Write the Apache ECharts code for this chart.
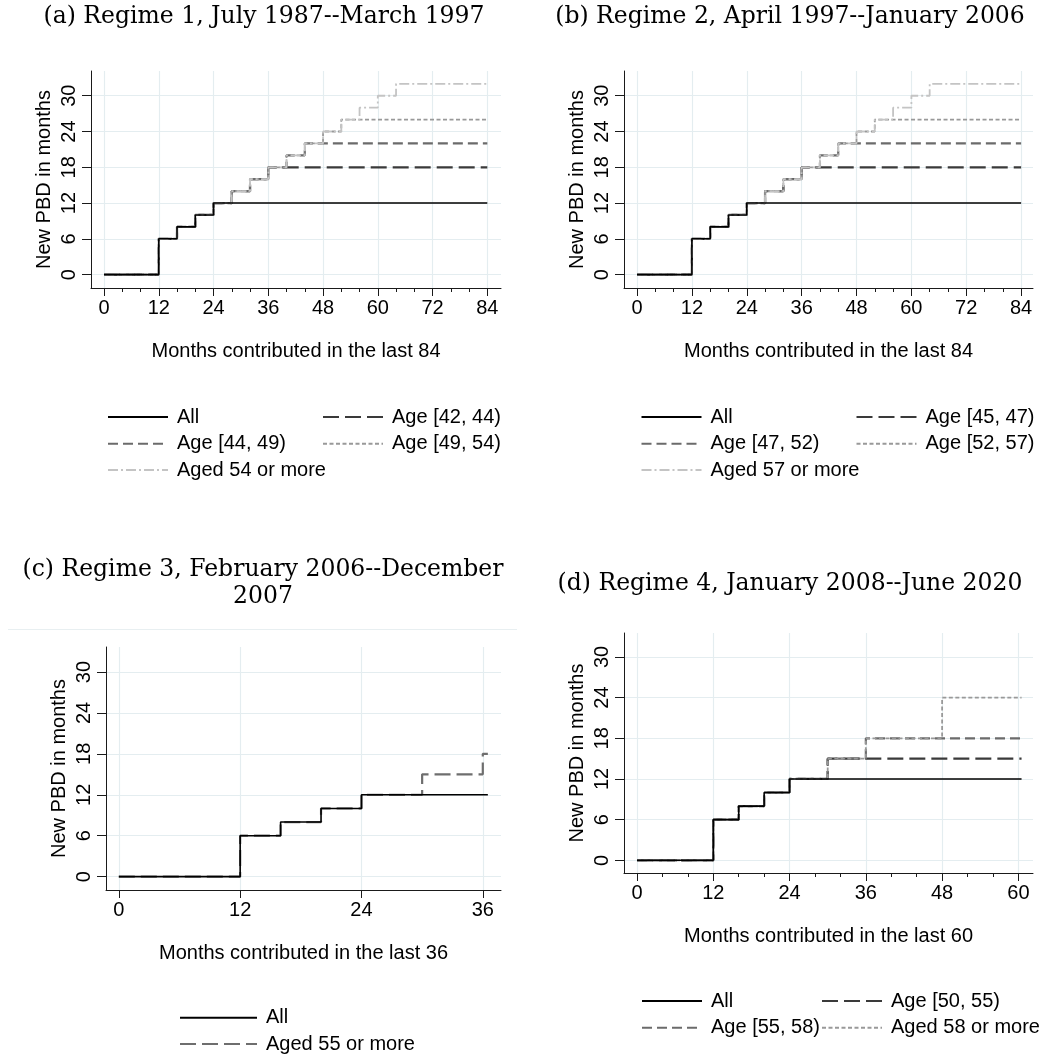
<!DOCTYPE html>
<html><head><meta charset="utf-8">
<script src="https://cdn.jsdelivr.net/npm/echarts@6/dist/echarts.min.js"></script>
<style>html,body{margin:0;padding:0;background:#fff}#c{width:1048px;height:1055px}</style>
</head><body><div id="c"></div><script>
// ---------------- DATA ----------------
const titleA = '(a) Regime 1, July 1987--March 1997';
const titleB = '(b) Regime 2, April 1997--January 2006';
const titleC = '(c) Regime 3, February 2006--December\n2007';
const titleD = '(d) Regime 4, January 2008--June 2020';
const yTitle = 'New PBD in months';

const yTicks = [0, 6, 12, 18, 24, 30];
const xTicks84 = [0, 12, 24, 36, 48, 60, 72, 84];
const xMinor84 = [0, 4, 8, 12, 16, 20, 24, 28, 32, 36, 40, 44, 48, 52, 56, 60, 64, 68, 72, 76, 80, 84];
const xTicks36 = [0, 12, 24, 36];
const xTicks60 = [0, 12, 24, 36, 48, 60];
const xMinor60 = [0, 4, 8, 12, 16, 20, 24, 28, 32, 36, 40, 44, 48, 52, 56, 60];

// Regime 1 and 2 (same schedule); step breakpoints (months contributed)
const months84 = [0, 12, 16, 20, 24, 28, 32, 36, 40, 44, 48, 52, 56, 60, 64, 84];
const allR12   = [0, 6, 8, 10, 12, 12, 12, 12, 12, 12, 12, 12, 12, 12, 12, 12];
const grp1R12  = [0, 6, 8, 10, 12, 14, 16, 18, 18, 18, 18, 18, 18, 18, 18, 18];
const grp2R12  = [0, 6, 8, 10, 12, 14, 16, 18, 20, 22, 22, 22, 22, 22, 22, 22];
const grp3R12  = [0, 6, 8, 10, 12, 14, 16, 18, 20, 22, 24, 26, 26, 26, 26, 26];
const grp4R12  = [0, 6, 8, 10, 12, 14, 16, 18, 20, 22, 24, 26, 28, 30, 32, 32];
const namesA = ['All', 'Age [42, 44)', 'Age [44, 49)', 'Age [49, 54)', 'Aged 54 or more'];
const namesB = ['All', 'Age [45, 47)', 'Age [47, 52)', 'Age [52, 57)', 'Aged 57 or more'];

// Regime 3
const months36 = [0, 12, 16, 20, 24, 30, 36, 36.5];
const allR3    = [0, 6, 8, 10, 12, 12, 12, 12];
const grp1R3   = [0, 6, 8, 10, 12, 15, 18, 18];
const namesC = ['All', 'Aged 55 or more'];

// Regime 4
const months60 = [0, 12, 16, 20, 24, 30, 36, 48, 60.5];
const allR4    = [0, 6, 8, 10, 12, 12, 12, 12, 12];
const grp1R4   = [0, 6, 8, 10, 12, 15, 15, 15, 15];
const grp2R4   = [0, 6, 8, 10, 12, 15, 18, 18, 18];
const grp3R4   = [0, 6, 8, 10, 12, 15, 18, 24, 24];
const namesD = ['All', 'Age [50, 55)', 'Age [55, 58)', 'Aged 58 or more'];

// ---------------- STYLES ----------------
const SANS = 'Liberation Sans, Arial, sans-serif';
const SERIF = 'DejaVu Serif, serif';
const sAll  = {color: '#000000', width: 1.6, type: 'solid'};
const sG1   = {color: '#3a3a3a', width: 2.2, type: [16, 6]};
const sG2   = {color: '#6b6b6b', width: 2.2, type: [10, 5]};
const sG3   = {color: '#999999', width: 1.8, type: [4, 2.5]};
const sG4   = {color: '#c4c4c4', width: 1.8, type: [10, 3, 2, 3]};
const sC1   = {color: '#6e6e6e', width: 2.2, type: [16, 6]};
const gridColor = '#e4edf0';

function pairs(xs, ys) { return xs.map((x, i) => [x, ys[i]]); }

const panels = [
  { title: titleA, tx: 264, tt: 3,
    grid: {left: 91, top: 71, width: 410, height: 217},
    xr: [-2.85, 87.0], yr: [-2.25, 34.15], xt: xTicks84, xm: xMinor84,
    xName: 'Months contributed in the last 84',
    series: [[namesA[1], pairs(months84, grp1R12), sG1], [namesA[2], pairs(months84, grp2R12), sG2],
             [namesA[3], pairs(months84, grp3R12), sG3], [namesA[4], pairs(months84, grp4R12), sG4],
             [namesA[0], pairs(months84, allR12), sAll]],
    legend: [[namesA[0], 107, 416, 60], [namesA[1], 322, 416, 60], [namesA[2], 107, 442.7, 60],
             [namesA[3], 322, 442.7, 60], [namesA[4], 107, 469, 60]] },
  { title: titleB, tx: 790, tt: 3,
    grid: {left: 624, top: 71, width: 409, height: 217},
    xr: [-2.85, 86.6], yr: [-2.25, 34.15], xt: xTicks84, xm: xMinor84,
    xName: 'Months contributed in the last 84',
    series: [[namesB[1], pairs(months84, grp1R12), sG1], [namesB[2], pairs(months84, grp2R12), sG2],
             [namesB[3], pairs(months84, grp3R12), sG3], [namesB[4], pairs(months84, grp4R12), sG4],
             [namesB[0] + ' ', pairs(months84, allR12), sAll]],
    legend: [[namesB[0] + ' ', 640.5, 416, 60], [namesB[1], 855.5, 416, 60], [namesB[2], 640.5, 442.7, 60],
             [namesB[3], 855.5, 442.7, 60], [namesB[4], 640.5, 469, 60]] },
  { title: titleC, tx: 263, tt: 556,
    grid: {left: 106, top: 647, width: 395, height: 243},
    xr: [-1.27, 37.8], yr: [-1.96, 33.67], xt: xTicks36, xm: null,
    xName: 'Months contributed in the last 36',
    series: [[namesC[1], pairs(months36, grp1R3), sC1], [namesC[0] + '  ', pairs(months36, allR3), sAll]],
    legend: [[namesC[0] + '  ', 179, 1016.7, 77], [namesC[1], 179, 1043, 77]] },
  { title: titleD, tx: 790, tt: 570,
    grid: {left: 624, top: 633, width: 409, height: 240},
    xr: [-2.05, 62.3], yr: [-1.87, 33.53], xt: xTicks60, xm: xMinor60,
    xName: 'Months contributed in the last 60',
    series: [[namesD[1], pairs(months60, grp1R4), sG1], [namesD[2], pairs(months60, grp2R4), sG2],
             [namesD[3], pairs(months60, grp3R4), sG3], [namesD[0] + '   ', pairs(months60, allR4), sAll]],
    legend: [[namesD[0] + '   ', 641, 1000, 60], [namesD[1], 821, 1000, 60], [namesD[2], 641, 1026.7, 60],
             [namesD[3], 821, 1026.7, 60]] }
];

const option = {
  animation: false, backgroundColor: '#fff',
  title: [], grid: [], xAxis: [], yAxis: [], series: [], legend: [],
  graphic: [{ type: 'line', shape: {x1: 8, y1: 629.5, x2: 517, y2: 629.5}, silent: true,
              style: {stroke: '#e8eff1', lineWidth: 1} }]
};

panels.forEach((p, i) => {
  option.title.push({ text: p.title, left: p.tx, top: p.tt, textAlign: 'center', padding: 0,
    textStyle: {fontFamily: SERIF, fontSize: 23.5, fontWeight: 'normal', color: '#000', lineHeight: 27} });
  option.grid.push(Object.assign({containLabel: false}, p.grid));
  const axisLine = {show: true, onZero: false, lineStyle: {color: '#1a1a1a', width: 1}};
  const xi = option.xAxis.length;
  option.xAxis.push({ type: 'value', gridIndex: i, min: p.xr[0], max: p.xr[1], position: 'bottom',
    axisLine, axisTick: {show: true, length: 8, customValues: p.xt, lineStyle: {color: '#1a1a1a'}},
    axisLabel: {customValues: p.xt, fontSize: 20, color: '#000', margin: 10, fontFamily: SANS},
    splitLine: {show: true, lineStyle: {color: gridColor, width: 1.2}},
    name: p.xName, nameLocation: 'middle', nameGap: 53,
    nameTextStyle: {fontSize: 20, color: '#000', fontFamily: SANS} });
  if (p.xm) {
    option.xAxis.push({ type: 'value', gridIndex: i, min: p.xr[0], max: p.xr[1], position: 'bottom',
      axisLine: {show: false, onZero: false}, axisLabel: {show: false}, splitLine: {show: false},
      axisTick: {show: true, length: 4, customValues: p.xm, lineStyle: {color: '#1a1a1a'}} });
  }
  option.yAxis.push({ type: 'value', gridIndex: i, min: p.yr[0], max: p.yr[1],
    axisLine, axisTick: {show: true, length: 9, customValues: yTicks, lineStyle: {color: '#1a1a1a'}},
    axisLabel: {customValues: yTicks, rotate: 90, margin: 12, fontSize: 20, color: '#000', fontFamily: SANS},
    splitLine: {show: true, lineStyle: {color: gridColor, width: 1.2}},
    name: yTitle, nameLocation: 'middle', nameGap: 37,
    nameTextStyle: {fontSize: 20, color: '#000', fontFamily: SANS} });
  p.series.forEach((s, k) => {
    option.series.push({ type: 'line', name: s[0], xAxisIndex: xi, yAxisIndex: i, data: s[1],
      step: 'end', symbol: 'none', lineStyle: s[2], itemStyle: {color: s[2].color},
      z: s[2] === sAll ? 5 : 2 + k * 0.1, silent: true });
  });
  p.legend.forEach(l => {
    option.legend.push({ data: [l[0]], left: l[1], top: l[2] - 9, itemWidth: l[3], itemHeight: 10,
      padding: 0, selectedMode: false,
      itemStyle: {opacity: 0, borderWidth: 0},
      formatter: n => n.trim(),
      textStyle: {fontSize: 20, color: '#000', fontFamily: SANS, padding: [0, 0, 0, 4]} });
  });
});

const chart = echarts.init(document.getElementById('c'), null, {renderer: 'canvas', width: 1048, height: 1055});
chart.setOption(option);
</script></body></html>
